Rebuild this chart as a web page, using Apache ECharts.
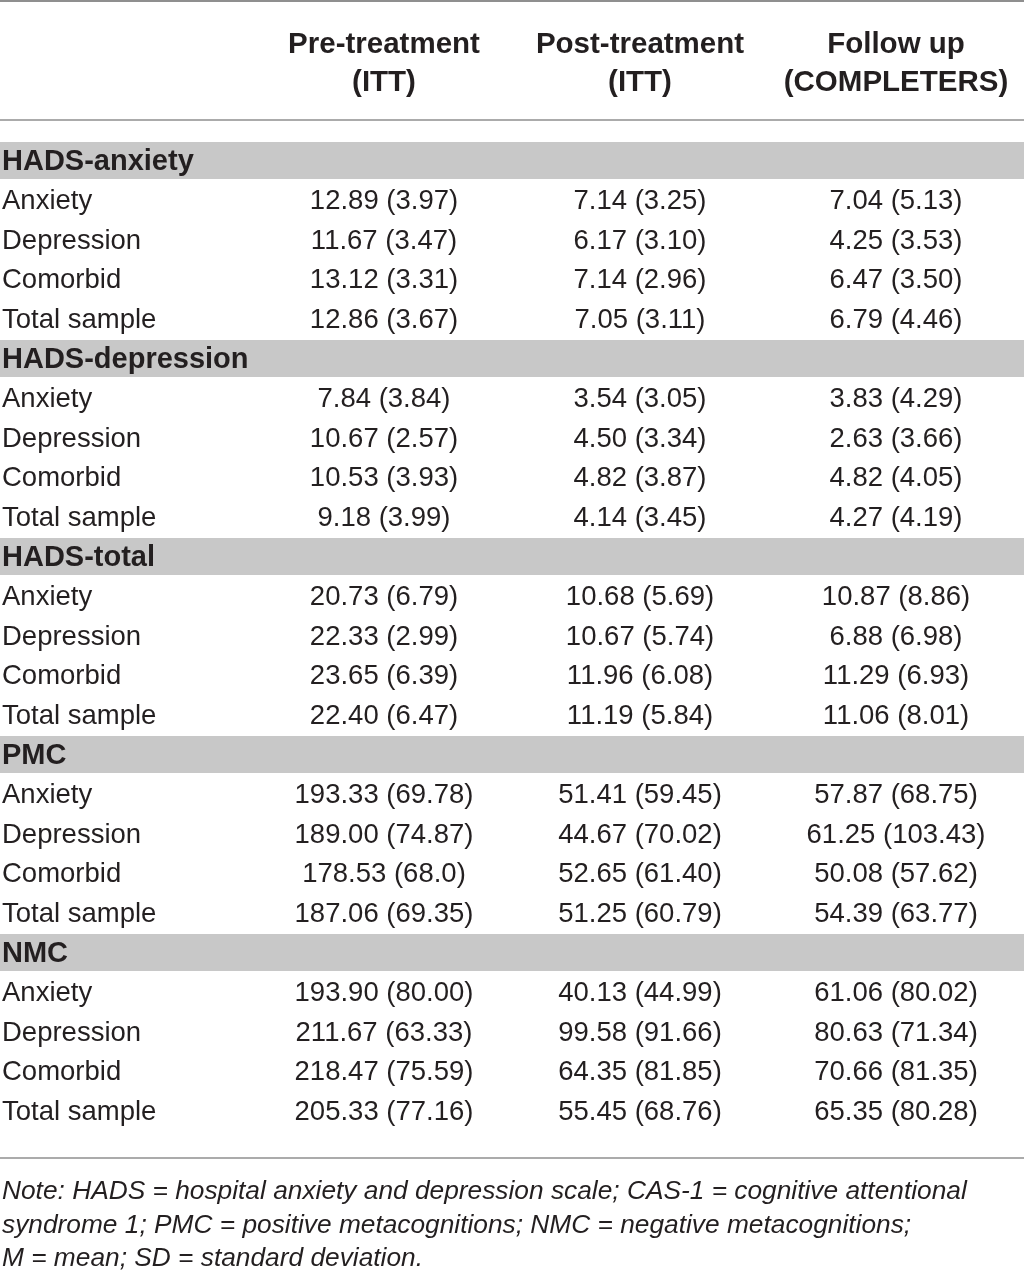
<!DOCTYPE html>
<html>
<head>
<meta charset="utf-8">
<script src="https://cdn.jsdelivr.net/npm/echarts@6/dist/echarts.min.js"></script>
<style>
  html, body { margin: 0; padding: 0; background: #fff; }
  #chart { width: 1024px; height: 1279px; }
</style>
</head>
<body>
<div id="chart"></div>
<script>
// column headers (first column holds the row labels)
const columns = ['', 'Pre-treatment\n(ITT)', 'Post-treatment\n(ITT)', 'Follow up\n(COMPLETERS)'];
const sections = ['HADS-anxiety', 'HADS-depression', 'HADS-total', 'PMC', 'NMC'];
const groups = ['Anxiety', 'Depression', 'Comorbid', 'Total sample'];

// M (SD) per group, section after section
const preTreatment = [
    '12.89 (3.97)', '11.67 (3.47)', '13.12 (3.31)', '12.86 (3.67)',
    '7.84 (3.84)', '10.67 (2.57)', '10.53 (3.93)', '9.18 (3.99)',
    '20.73 (6.79)', '22.33 (2.99)', '23.65 (6.39)', '22.40 (6.47)',
    '193.33 (69.78)', '189.00 (74.87)', '178.53 (68.0)', '187.06 (69.35)',
    '193.90 (80.00)', '211.67 (63.33)', '218.47 (75.59)', '205.33 (77.16)'
];
const postTreatment = [
    '7.14 (3.25)', '6.17 (3.10)', '7.14 (2.96)', '7.05 (3.11)',
    '3.54 (3.05)', '4.50 (3.34)', '4.82 (3.87)', '4.14 (3.45)',
    '10.68 (5.69)', '10.67 (5.74)', '11.96 (6.08)', '11.19 (5.84)',
    '51.41 (59.45)', '44.67 (70.02)', '52.65 (61.40)', '51.25 (60.79)',
    '40.13 (44.99)', '99.58 (91.66)', '64.35 (81.85)', '55.45 (68.76)'
];
const followUp = [
    '7.04 (5.13)', '4.25 (3.53)', '6.47 (3.50)', '6.79 (4.46)',
    '3.83 (4.29)', '2.63 (3.66)', '4.82 (4.05)', '4.27 (4.19)',
    '10.87 (8.86)', '6.88 (6.98)', '11.29 (6.93)', '11.06 (8.01)',
    '57.87 (68.75)', '61.25 (103.43)', '50.08 (57.62)', '54.39 (63.77)',
    '61.06 (80.02)', '80.63 (71.34)', '70.66 (81.35)', '65.35 (80.28)'
];
const note = 'Note: HADS = hospital anxiety and depression scale; CAS-1 = cognitive attentional\n' +
    'syndrome 1; PMC = positive metacognitions; NMC = negative metacognitions;\n' +
    'M = mean; SD = standard deviation.';

const FONT = '"Liberation Sans", Arial, sans-serif';
const INK = '#231f20';

// build the table rows: a band row per section, then one row per group
const rowNames = [];
const bandData = [];
const cellData = [];
sections.forEach((sec, s) => {
    const bandRow = rowNames.length;
    rowNames.push(sec);
    bandData.push([0, bandRow, sec]);
    groups.forEach((g, k) => {
        const r = rowNames.length;
        const i = s * groups.length + k;
        rowNames.push(sec + ' ' + g);
        cellData.push([0, r, g]);
        cellData.push([1, r, preTreatment[i]]);
        cellData.push([2, r, postTreatment[i]]);
        cellData.push([3, r, followUp[i]]);
    });
});

const chart = echarts.init(document.getElementById('chart'));
chart.setOption({
    animation: false,
    title: {
        text: note,
        left: 2,
        top: 1175,
        padding: 0,
        textStyle: {
            fontFamily: FONT,
            fontStyle: 'italic',
            fontWeight: 'normal',
            fontSize: 26.3,
            lineHeight: 33.5,
            color: INK
        }
    },
    grid: { left: 0, right: 0, top: 142, height: 990 },
    xAxis: {
        type: 'category',
        position: 'top',
        data: columns,
        axisLine: { show: false },
        axisTick: { show: false },
        splitLine: { show: false },
        axisLabel: {
            margin: 40,
            interval: 0,
            fontFamily: FONT,
            fontWeight: 'bold',
            fontSize: 29.5,
            lineHeight: 38,
            color: INK
        }
    },
    yAxis: {
        type: 'category',
        inverse: true,
        data: rowNames,
        show: false
    },
    graphic: [
        { type: 'line', shape: { x1: 0, y1: 1, x2: 1024, y2: 1 }, style: { stroke: '#8f8f8f', lineWidth: 2 } },
        { type: 'line', shape: { x1: 0, y1: 120, x2: 1024, y2: 120 }, style: { stroke: '#8f8f8f', lineWidth: 1.5 } },
        { type: 'line', shape: { x1: 0, y1: 1158, x2: 1024, y2: 1158 }, style: { stroke: '#8f8f8f', lineWidth: 1.5 } }
    ],
    series: [
        {
            // grey section bands with bold titles
            type: 'custom',
            data: bandData,
            renderItem: (params, api) => {
                const c = api.coord([api.value(0), api.value(1)]);
                const rowH = api.size([0, 1])[1];
                const top = c[1] - rowH / 2;
                const gw = params.coordSys.width;
                return {
                    type: 'group',
                    children: [
                        {
                            type: 'rect',
                            shape: { x: params.coordSys.x, y: top, width: gw, height: rowH - 2.5 },
                            style: { fill: '#c8c8c8' }
                        },
                        {
                            type: 'text',
                            style: {
                                x: params.coordSys.x + 2,
                                y: top + (rowH - 2.5) / 2 + 1,
                                text: bandData[params.dataIndex][2],
                                align: 'left',
                                verticalAlign: 'middle',
                                fontFamily: FONT,
                                fontWeight: 'bold',
                                fontSize: 29,
                                fill: INK
                            }
                        }
                    ]
                };
            }
        },
        {
            // body cells
            type: 'custom',
            data: cellData,
            renderItem: (params, api) => {
                const col = api.value(0);
                const c = api.coord([col, api.value(1)]);
                const colW = api.size([1, 0])[0];
                const first = col === 0;
                return {
                    type: 'text',
                    style: {
                        x: first ? c[0] - colW / 2 + 2 : c[0],
                        y: c[1],
                        text: cellData[params.dataIndex][2],
                        align: first ? 'left' : 'center',
                        verticalAlign: 'middle',
                        fontFamily: FONT,
                        fontSize: 27.5,
                        fill: INK
                    }
                };
            }
        }
    ]
});
</script>
</body>
</html>
